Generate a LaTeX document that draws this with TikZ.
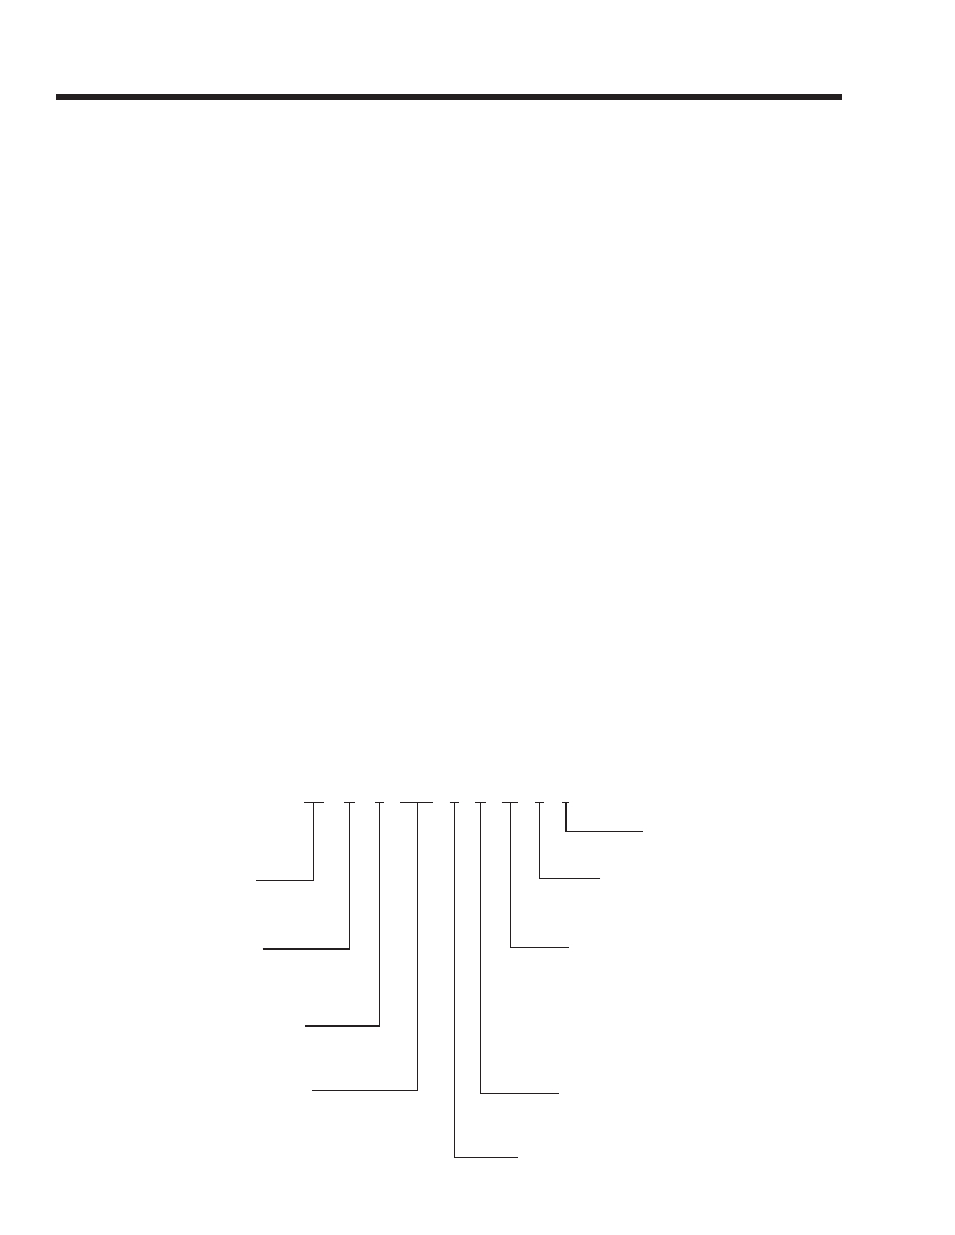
\documentclass[tikz,border=0pt]{standalone}
\usepackage{tikz}
\usetikzlibrary{positioning}
\definecolor{inkblack}{RGB}{35,31,32}

\tikzset{lead/.style={draw=inkblack, line width=0.75pt},
         leadthick/.style={draw=inkblack, line width=1.3pt}}

\begin{document}
\begin{tikzpicture}[x=0.75pt, y=-0.75pt]

\useasboundingbox (0,0) rectangle (954,1235);
%\draw [help lines, step=10](0,0) grid (954,1235);
\fill [inkblack] (56,94) rectangle (842,100);

% tops of the leaders
\coordinate (t1) at (313.5,802.5);
\coordinate (t2) at (349.5,802.5);
\coordinate (t3) at (379.5,802.5);
\coordinate (t4) at (417,802.5);
\coordinate (t5) at (454.5,802.5);
\coordinate (t6) at (480.5,802.5);
\coordinate (t7) at (510.5,802.5);
\coordinate (t8) at (539.5,802.5);
\coordinate (t9) at (566,802.5);

% free ends
\coordinate (e1) at (256,880.5);
\coordinate (e2) at (262.5,949);
\coordinate (e3) at (305,1026);
\coordinate (e4) at (312,1090.5);
\coordinate (e5) at (517.5,1157.5);
\coordinate (e6) at (558.5,1093.5);
\coordinate (e7) at (569,947.5);
\coordinate (e8) at (600,878.5);
\coordinate (e9) at (642.5,831.5);

% short caps
\draw [lead] (304,802.5) -- (323.5,802.5);
\draw [lead] (344,802.5) -- (355,802.5);
\draw [lead] (375,802.5) -- (384,802.5);
\draw [lead] (400,802.5) -- (433,802.5);
\draw [lead] (449.5,802.5) -- (459,802.5);
\draw [lead] (475,802.5) -- (486,802.5);
\draw [lead] (501.5,802.5) -- (518,802.5);
\draw [lead] (535,802.5) -- (544,802.5);
\draw [lead] (562,802.5) -- (569,802.5);

% leaders
\draw [lead] (t1) |- (e1);
\draw [leadthick] (e1) -- (e1 -| t1);
\draw [lead] (t2) |- (e2);
\draw [leadthick] (e2) -- (e2 -| t2);
\draw [lead] (t3) |- (e3);
\draw [leadthick] (e3) -- (e3 -| t3);
\draw [lead] (t4) |- (e4);
\draw [lead] (t5) |- (e5);
\draw [lead] (t6) |- (e6);
\draw [lead] (t7) |- (e7);
\draw [lead] (t8) |- (e8);
\draw [leadthick] (e8) -- (e8 -| t8);
\draw [leadthick] (t9) -- (t9 |- e9);
\draw [lead] (t9 |- e9) -- (e9);

\end{tikzpicture}
\end{document}
